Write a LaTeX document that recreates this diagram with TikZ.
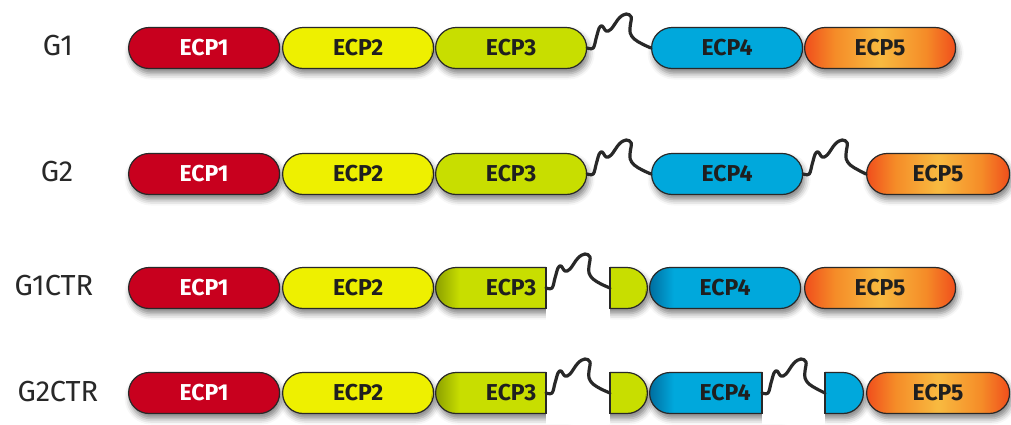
\documentclass[tikz,border=0pt]{standalone}
\usepackage{fontspec}
\newfontfamily\diafont{Fira Sans}
\usetikzlibrary{shapes.misc,shadows.blur}

\definecolor{ecpred}{RGB}{200,0,30}
\definecolor{ecpyellow}{RGB}{238,240,0}
\definecolor{ecplime}{RGB}{200,222,0}
\definecolor{ecplimedark}{RGB}{140,160,0}
\definecolor{ecpblue}{RGB}{0,168,220}
\definecolor{ecpbluedark}{RGB}{0,110,160}
\definecolor{ored}{RGB}{240,78,28}
\definecolor{oorange}{RGB}{245,140,40}
\definecolor{oyellow}{RGB}{248,186,64}
\definecolor{outline}{RGB}{40,40,40}
\definecolor{labelgray}{RGB}{40,40,40}

% orange domain: red-orange ends, warm yellow middle
\pgfdeclarehorizontalshading{ecpfive}{100bp}{color(0bp)=(ored); color(25bp)=(ored);
  color(35bp)=(oorange); color(50bp)=(oyellow); color(65bp)=(oorange);
  color(75bp)=(ored); color(100bp)=(ored)}
% darkened left end for domains following a cut
\pgfdeclarehorizontalshading{limeleft}{100bp}{color(0bp)=(ecplimedark); color(25bp)=(ecplimedark);
  color(33bp)=(ecplime); color(100bp)=(ecplime)}
\pgfdeclarehorizontalshading{blueleft}{100bp}{color(0bp)=(ecpbluedark); color(25bp)=(ecpbluedark);
  color(33bp)=(ecpblue); color(100bp)=(ecpblue)}

\tikzset{
  ecpbox/.style={rounded rectangle, draw=outline, line width=1.2pt,
    minimum width=151pt, minimum height=41pt, inner sep=0pt,
    font=\diafont\bfseries\fontsize{23}{23}\selectfont, text=black!88,
    blur shadow={shadow xshift=2pt, shadow yshift=-5pt,
      shadow blur radius=6pt, shadow opacity=50}},
  e1/.style={ecpbox, fill=ecpred, text=white},
  e2/.style={ecpbox, fill=ecpyellow},
  e3/.style={ecpbox, fill=ecplime},
  e3c/.style={ecpbox, shading=limeleft},
  e4/.style={ecpbox, fill=ecpblue},
  e4c/.style={ecpbox, shading=blueleft},
  e5/.style={ecpbox, shading=ecpfive},
  stubg/.style={ecpbox, fill=ecplime, minimum width=58pt},
  stubb/.style={ecpbox, fill=ecpblue, minimum width=58pt},
  gapband/.style={fill=white, draw=none},
  cutedge/.style={draw=outline, line width=1.2pt},
  linker/.style={draw=outline, line width=3.2pt, line cap=round, line join=round},
  rowlabel/.style={font=\diafont\fontsize{29}{29}\selectfont, text=labelgray}
}

% wavy linker from one named point to another
\newcommand\wavelinker[2]{%
  \begin{scope}[shift={(#1)}]
    \draw[linker] plot[smooth, tension=0.6] coordinates {(#1) (6,0) (9,-10) (12,-20)
      (15,-22) (19,-17) (24,-19) (32,-30) (39,-34) (44,-31) (43,-22) (43,-15)
      (47,-9) (55,-4) (#2)};
  \end{scope}}

\begin{document}
\begin{tikzpicture}[x=1pt, y=-1pt]
\useasboundingbox (0,0) rectangle (1011,424);

% row labels
\node[rowlabel] (lg1) at (58,46) {G1};
\node[rowlabel] (lg2) at (57,172) {G2};
\node[rowlabel] (lg3) at (54,286) {G1CTR};
\node[rowlabel] (lg4) at (58,391) {G2CTR};

% G1
\node[e1, anchor=west] (a1) at (128,48) {ECP1};
\node[e2, anchor=west] (a2) at (282,48) {ECP2};
\node[e3, anchor=west] (a3) at (435,48) {ECP3};
\node[e4, anchor=west] (a4) at (651,48) {ECP4};
\node[e5, anchor=west] (a5) at (804,48) {ECP5};

% G2
\node[e1, anchor=west] (b1) at (128,174) {ECP1};
\node[e2, anchor=west] (b2) at (282,174) {ECP2};
\node[e3, anchor=west] (b3) at (435,174) {ECP3};
\node[e4, anchor=west] (b4) at (651,174) {ECP4};
\node[e5, anchor=west, minimum width=143pt] (b5) at (866,174) {ECP5};

% G1CTR
\node[e1, anchor=west] (c1) at (128,288) {ECP1};
\node[e2, anchor=west] (c2) at (282,288) {ECP2};
\node[e3c, anchor=west] (c3) at (435,288) {ECP3};
\node[stubg, anchor=east] (c3s) at (648,288) {};
\node[e4c, anchor=west] (c4) at (649,288) {ECP4};
\node[e5, anchor=west] (c5) at (804,288) {ECP5};

% G2CTR
\node[e1, anchor=west] (d1) at (128,393) {ECP1};
\node[e2, anchor=west] (d2) at (282,393) {ECP2};
\node[e3c, anchor=west] (d3) at (435,393) {ECP3};
\node[stubg, anchor=east] (d3s) at (648,393) {};
\node[e4c, anchor=west] (d4) at (649,393) {ECP4};
\node[stubb, anchor=east] (d4s) at (864,393) {};
\node[e5, anchor=west, minimum width=143pt] (d5) at (866,393) {ECP5};

% cut points
\coordinate (c3cut) at (546,288);
\coordinate (c3re) at (610,288);
\coordinate (d3cut) at (546,393);
\coordinate (d3re) at (610,393);
\coordinate (d4cut) at (762,393);
\coordinate (d4re) at (825,393);

% white gaps where the chains are cut
\fill[gapband] (546,232) rectangle (610,342);
\fill[gapband] (546,350) rectangle (610,424);
\fill[gapband] (762,350) rectangle (825,424);

% closing edges at the cuts
\draw[cutedge] (c3cut |- c3.north) -- (c3cut |- c3.south);
\draw[cutedge] (c3re |- c3s.north) -- (c3re |- c3s.south);
\draw[cutedge] (d3cut |- d3.north) -- (d3cut |- d3.south);
\draw[cutedge] (d3re |- d3s.north) -- (d3re |- d3s.south);
\draw[cutedge] (d4cut |- d4.north) -- (d4cut |- d4.south);
\draw[cutedge] (d4re |- d4s.north) -- (d4re |- d4s.south);

% linkers
\wavelinker{a3.east}{a4.west}
\wavelinker{b3.east}{b4.west}
\wavelinker{b4.east}{b5.west}
\wavelinker{c3cut}{c3re}
\wavelinker{d3cut}{d3re}
\wavelinker{d4cut}{d4re}
\end{tikzpicture}
\end{document}
